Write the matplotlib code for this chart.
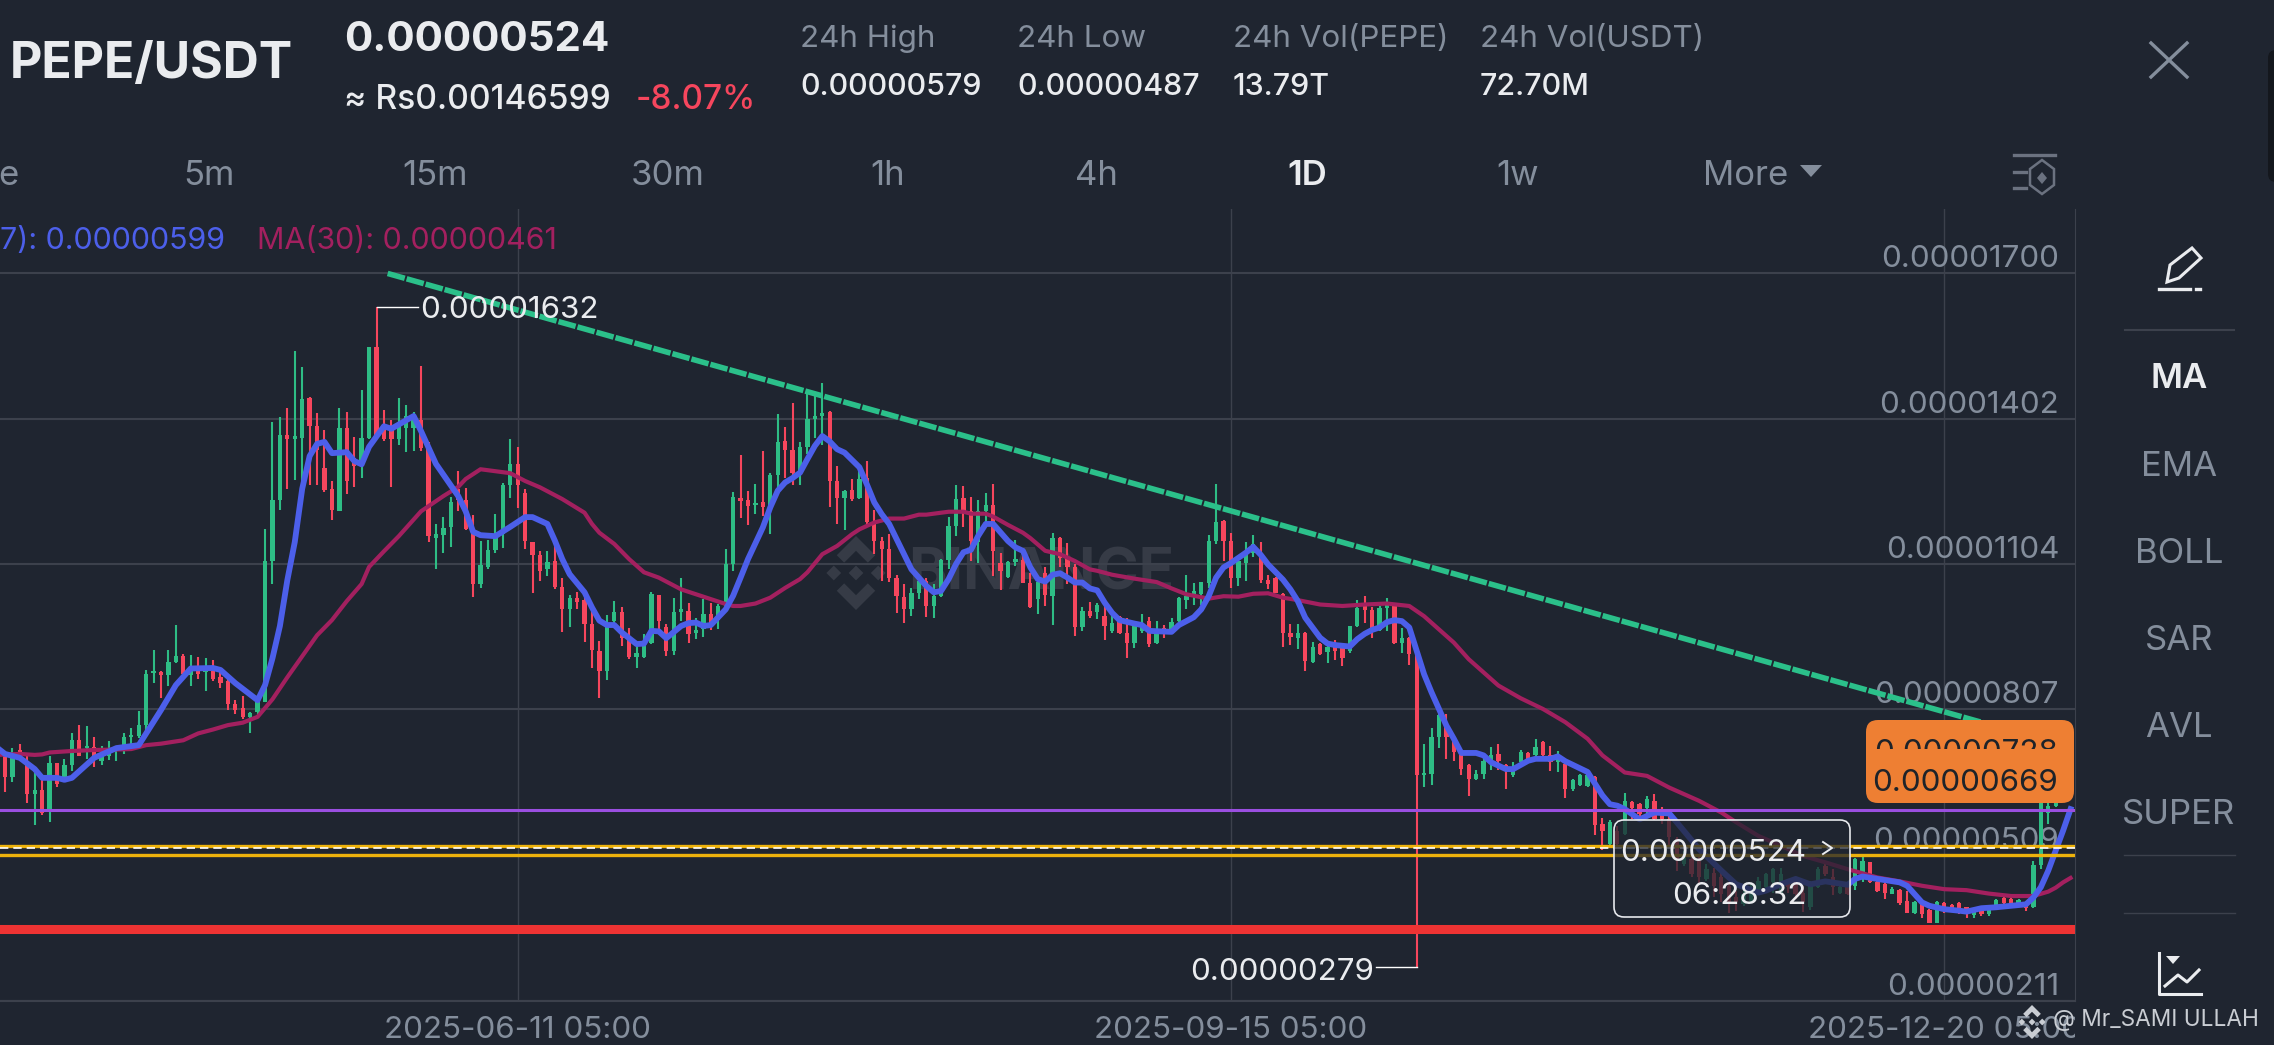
import numpy as np
import matplotlib
matplotlib.use("Agg")
from matplotlib import pyplot as plt
from matplotlib.patches import FancyBboxPatch, Polygon, Rectangle
from matplotlib.transforms import Bbox, IdentityTransform, TransformedBbox

plt.rcParams['font.family'] = ['Inter', 'DejaVu Sans']

# prices are in units of 0.00000001 USDT, one candle per day
opens = [712,669,724,701,634,642,599,697,669,693,
         744,728,730,701,712,728,732,750,753,775,
         881,883,877,904,917,877,892,884,886,873,
         865,818,810,791,802,823,1111,1236,1369,1361,
         1363,1445,1388,1301,1259,1214,1384,1322,1306,1363,
         1549,1388,1383,1361,1384,1384,1400,1345,1159,1164,
         1181,1259,1236,1173,1064,1099,1134,1166,1266,1310,
         1250,1149,1123,1095,1111,1058,1012,1035,1031,983,
         927,886,989,1006,954,915,915,944,1041,975,
         927,1006,1009,963,972,1002,990,1019,1105,1240,
         1236,1225,1231,1221,1288,1356,1338,1289,1344,1402,
         1408,1417,1274,1241,1256,1240,1282,1187,1152,1135,
         1077,1038,1012,1045,1071,1019,1040,1113,1183,1241,
         1214,1149,1214,1225,1108,1079,1110,1113,1067,1033,
         1086,1040,1158,1118,1098,975,1008,1006,998,968,
         996,964,944,968,988,944,973,971,988,1032,
         1039,1043,1066,1152,1194,1153,1077,1107,1128,1121,
         1073,1077,1044,964,954,964,904,941,924,937,
         936,927,977,1019,1010,969,1015,1021,944,954,
         920,672,675,750,774,747,713,694,664,675,
         702,716,694,672,699,718,713,740,713,699,
         696,645,653,651,668,572,532,559,552,617,
         613,606,620,603,582,541,490,500,497,460,
         473,463,446,422,408,415,436,443,453,432,
         449,456,432,402,443,487,463,432,446,446,
         466,494,453,449,430,437,415,391,412,397,
         370,410,407,410,402,387,396,388,402,420,
         419,407,408,402,489,596,610]
highs = [720,728,736,712,677,666,712,698,705,758,
         775,773,751,732,742,732,758,769,804,888,
         928,886,928,980,920,919,914,912,908,886,
         869,826,834,802,837,1177,1396,1405,1424,1541,
         1508,1447,1414,1379,1275,1424,1417,1365,1461,1550,
         1632,1421,1399,1445,1431,1417,1511,1355,1186,1202,
         1242,1295,1261,1206,1152,1154,1207,1271,1361,1344,
         1259,1150,1131,1132,1146,1077,1041,1047,1036,1009,
         948,1000,1030,1017,973,941,961,1048,1042,982,
         1036,1077,1026,995,1033,1026,1023,1135,1253,1328,
         1255,1268,1337,1291,1412,1386,1434,1354,1456,1456,
         1475,1419,1306,1256,1279,1296,1316,1215,1161,1166,
         1083,1064,1056,1077,1077,1064,1115,1202,1266,1265,
         1243,1236,1250,1268,1127,1111,1154,1125,1086,1071,
         1098,1169,1161,1148,1105,1017,1028,1026,1022,1002,
         998,994,981,1002,996,988,980,994,1037,1083,
         1066,1069,1165,1269,1196,1169,1114,1149,1165,1149,
         1083,1078,1046,983,983,966,946,943,937,949,
         937,978,1032,1039,1017,1019,1036,1022,973,955,
         920,736,770,798,798,750,719,696,683,709,
         730,736,696,699,724,719,746,742,732,723,
         706,665,674,679,670,585,581,569,635,619,
         615,630,634,608,596,545,518,507,507,490,
         483,480,453,436,443,449,463,473,483,483,
         456,463,446,456,485,490,480,446,453,503,
         505,495,463,453,443,439,436,414,414,398,
         415,412,408,412,403,395,402,407,419,422,
         430,419,412,496,680,660,670]
lows = [638,659,708,615,570,591,577,648,666,681,
        711,705,689,693,703,701,715,728,748,763,
        862,831,855,902,877,855,870,845,865,851,
        806,798,787,758,794,822,1064,1216,1258,1277,
        1275,1267,1267,1252,1195,1213,1248,1262,1281,1361,
        1367,1356,1262,1349,1335,1336,1336,1149,1095,1128,
        1140,1214,1175,1037,1055,1095,1128,1138,1241,1220,
        1136,1045,1070,1081,1053,965,975,1012,946,892,
        830,867,985,937,910,892,913,942,972,916,
        919,989,943,951,956,969,972,1017,1090,1200,
        1185,1208,1204,1166,1258,1282,1267,1266,1330,1364,
        1348,1221,1187,1174,1234,1238,1187,1125,1070,1069,
        1004,985,999,1033,997,995,1038,1094,1163,1180,
        1111,1108,1180,1081,1051,1077,1101,1066,1015,1002,
        1019,980,1098,1064,957,967,995,992,949,964,
        961,913,932,964,936,941,954,968,986,1012,
        1021,1022,1056,1146,1111,1055,1060,1071,1119,1066,
        1053,1045,934,939,930,885,902,919,903,908,
        896,922,975,984,954,968,968,942,922,898,
        279,649,653,728,706,702,673,629,663,665,
        683,683,645,668,696,704,711,711,682,679,
        626,641,651,648,549,520,529,528,550,582,
        586,589,580,572,524,477,487,464,449,455,
        422,412,391,395,405,412,429,432,432,429,
        432,419,393,396,441,466,427,429,427,438,
        453,451,434,419,429,407,390,389,381,369,
        369,391,393,389,381,381,384,384,400,407,
        405,405,395,400,480,572,608]
closes = [669,712,712,634,642,595,697,654,693,744,
          712,732,712,716,724,730,750,755,775,880,
          886,877,904,916,880,892,880,888,870,861,
          818,806,791,800,822,1111,1236,1369,1361,1367,
          1443,1388,1338,1256,1216,1384,1275,1306,1363,1549,
          1369,1361,1361,1388,1408,1408,1342,1162,1166,1179,
          1232,1236,1177,1064,1103,1134,1166,1266,1310,1266,
          1152,1123,1091,1109,1057,1012,1036,1028,983,928,
          886,982,1006,954,915,922,941,1043,989,927,
          1006,1012,961,969,1002,985,1019,1105,1243,1234,
          1224,1230,1222,1288,1354,1338,1292,1344,1402,1408,
          1415,1275,1240,1255,1238,1279,1190,1152,1135,1077,
          1040,1012,1045,1071,1019,1040,1113,1183,1239,1214,
          1152,1214,1225,1132,1091,1110,1115,1067,1016,1069,
          1042,1159,1118,1098,976,1009,999,1021,977,985,
          964,944,977,985,942,969,968,987,1036,1039,
          1049,1068,1153,1191,1152,1077,1111,1128,1145,1073,
          1063,1046,964,956,964,907,936,920,936,926,
          913,977,1015,1010,968,1015,1024,944,954,920,
          672,675,750,796,751,719,685,665,675,702,
          713,702,682,682,719,706,730,713,699,713,
          645,663,672,672,570,558,577,531,620,606,
          593,623,582,582,545,500,511,470,463,480,
          446,429,408,412,429,436,456,470,480,470,
          443,429,412,446,480,470,443,443,429,500,
          497,453,436,432,439,410,391,412,388,370,
          412,402,400,391,391,393,389,405,417,410,
          410,417,400,489,640,610,617]

ma7_days = [-1,0,2,4,5,7,8,9,12,15,18,21,23,25,28,29,31,34,35,36,37,38,39,40,41,42,43,44,46,47,48,49,
            51,52,55,56,58,61,62,63,64,66,68,70,71,73,74,75,76,78,79,80,81,82,83,85,86,87,88,89,
            91,92,93,94,95,97,98,99,100,102,103,104,105,106,107,108,109,110,111,112,113,115,116,
            117,118,119,121,122,124,125,126,127,128,129,130,131,132,133,135,136,137,138,139,140,
            141,142,143,144,145,146,147,148,149,150,152,153,154,157,158,160,161,162,163,164,165,
            167,168,169,170,172,173,174,175,177,178,179,181,182,183,184,185,186,187,188,189,190,
            191,192,193,194,195,196,198,199,200,202,203,205,206,208,209,210,213,214,215,216,217,
            218,220,222,224,225,228,231,233,236,237,239,241,243,245,248,249,250,252,255,256,258,
            259,261,263,264,266,268,270,272,273,274,275,276,277,278]
ma7_values = [728,716,708,685,667,667,663,667,708,728,734,806,857,891,892,888,861,826,857,912,978,1072,1150,1259,1326,1351,1355,1332,1334,1316,1309,1345,
              1387,1382,1408,1377,1310,1244,1213,1171,1164,1162,1181,1201,1201,1187,1153,1115,1084,1047,1016,989,980,980,965,941,942,968,967,953,
              978,984,985,978,980,1012,1040,1077,1115,1180,1221,1255,1272,1281,1292,1320,1347,1367,1356,1340,1333,1303,1268,
              1231,1207,1187,1125,1094,1060,1047,1050,1074,1105,1129,1134,1163,1187,1187,1152,1139,1132,1098,1074,1069,
              1083,1086,1077,1067,1067,1055,1051,1026,1005,990,983,980,968,966,980,996,1012,1039,1077,1098,1107,
              1128,1140,1124,1104,1073,1053,1029,995,954,942,939,936,951,962,970,975,986,990,988,975,927,
              879,842,808,774,747,718,718,713,699,685,685,702,706,706,711,701,679,655,631,613,610,
              603,582,596,594,576,521,477,449,432,436,449,460,449,455,448,460,465,460,453,446,412,
              405,398,395,393,400,402,405,408,422,443,477,518,559,603]
ma30_days = [-1,2,4,5,6,9,12,15,17,19,21,24,26,28,30,32,34,36,38,40,42,44,46,48,49,51,53,56,59,61,62,64,66,68,70,72,
             75,78,79,80,82,84,86,88,91,93,95,97,98,99,101,103,105,107,108,110,112,114,115,117,119,121,123,124,127,129,130,132,133,135,137,138,140,142,144,146,147,
             149,152,155,157,159,162,164,166,168,170,172,174,177,180,183,186,189,191,193,195,197,199,201,204,207,210,213,215,
             218,221,224,228,231,233,236,239,242,245,248,252,255,258,261,264,267,270,273,275,276,277,278]
ma30_values = [714,716,714,715,719,722,724,725,726,734,737,744,758,766,775,780,792,828,873,916,959,990,1029,1064,1099,1131,1162,1213,1244,1263,1279,1299,1295,1291,1275,1262,
               1238,1210,1187,1169,1146,1115,1088,1077,1053,1043,1033,1023,1019,1019,1024,1036,1056,1074,1088,1125,1142,1166,1176,1190,1198,1198,1206,1206,1212,1212,1208,1208,1202,1185,1169,1158,1132,1125,1111,1094,1091,
               1083,1075,1068,1055,1043,1034,1039,1038,1044,1045,1036,1031,1022,1019,1022,1024,1019,998,971,944,910,883,856,830,808,781,747,713,
               678,671,647,620,596,576,548,528,507,494,480,463,455,446,439,437,430,425,425,434,442,453,462]

trend_days = [51.5, 266.2]
trend_values = [1700, 780]
purple_level = 602
yellow_levels = [527, 508]
last_price = 524
red_level = 358

grid_values = [1700, 1402, 1104, 807, 509, 211]
grid_labels = ['0.00001700', '0.00001402', '0.00001104', '0.00000807', '0.00000509', '0.00000211']
date_days = [69, 165, 261]
date_labels = ['2025-06-11 05:00', '2025-09-15 05:00', '2025-12-20 05:00']

stats_names = ['24h High', '24h Low', '24h Vol(PEPE)', '24h Vol(USDT)']
stats_values = ['0.00000579', '0.00000487', '13.79T', '72.70M']
stats_x = [800, 1017, 1233, 1480]
periods = ['e', '5m', '15m', '30m', '1h', '4h', '1D', '1w', 'More']
periods_x = [8, 209, 435, 668, 888, 1096, 1307, 1518, 1746]
tools = ['MA', 'EMA', 'BOLL', 'SAR', 'AVL', 'SUPER']
tools_y = [379, 467, 554, 641, 728, 815]

BG = '#1F2530'
GRAY = '#848E9C'
WHITE = '#EAECEF'
GREEN = '#2EBD85'
RED = '#F6465D'
BLUE = '#4C5FEA'
PURPLE = '#A3205F'
GRID = '#3C414C'
MARK = '#363B46'

W, H = 2274, 1045


def draw_logo(a, cx, cy, r, color, zorder=1):
    shapes = [
        [(0, 1), (.52, .48), (.32, .28), (0, .6), (-.32, .28), (-.52, .48)],
        [(0, -1), (.52, -.48), (.32, -.28), (0, -.6), (-.32, -.28), (-.52, -.48)],
        [(0, .2), (.2, 0), (0, -.2), (-.2, 0)],
        [(.6, .2), (.8, 0), (.6, -.2), (.4, 0)],
        [(-.6, .2), (-.4, 0), (-.6, -.2), (-.8, 0)],
    ]
    for s in shapes:
        pts = [(cx + x * r, cy - y * r) for x, y in s]
        a.add_patch(Polygon(pts, closed=True, fc=color, ec='none', zorder=zorder))


def px_axes(z):
    a = fig.add_axes([0, 0, 1, 1], zorder=z)
    a.set_xlim(0, W)
    a.set_ylim(H, 0)
    a.axis('off')
    a.patch.set_alpha(0)
    return a


fig = plt.figure(figsize=(W / 100, H / 100), dpi=100, facecolor=BG)

# watermark goes under the candles
under = px_axes(0)
draw_logo(under, 856, 573, 37, MARK)
under.text(908, 575, 'BINANCE', color=MARK, fontsize=42, fontweight='bold', va='center')

ax = fig.add_axes([0, (H - 1001) / H, 2075 / W, 792 / H], zorder=1)
ax.patch.set_alpha(0)
ax.set_xlim(-0.673, 278.6)
ax.set_ylim(210, 1832)

days = np.arange(len(opens))
o = np.array(opens)
c = np.array(closes)
colors = [GREEN if c[i] >= o[i] else RED for i in days]

ax.vlines(days, lows, highs, colors=colors, linewidth=1.5, zorder=2)
ax.bar(days, np.maximum(np.abs(c - o), 5), bottom=np.minimum(o, c), width=0.58, color=colors, zorder=2.1)

ax.plot(ma30_days, ma30_values, color=PURPLE, lw=3.0, zorder=3, solid_joinstyle='round')
ax.plot(ma7_days, ma7_values, color=BLUE, lw=4.2, zorder=3.2, solid_joinstyle='round')

ax.plot(trend_days, trend_values, color='#2BC08A', lw=4, dashes=(3.2, 0.35), zorder=4)
ax.axhline(purple_level, color='#9A4FE0', lw=2.2, zorder=4)
for lvl in yellow_levels:
    ax.axhline(lvl, color='#EDB20C', lw=2.4, zorder=4)
ax.axhline(last_price, color='white', lw=1.2, dashes=(5, 3), zorder=4.1)
ax.axhline(red_level, color='#EE3333', lw=6.5, zorder=4)

# highest and lowest price marks
ax.plot([50, 55.6], [1632, 1632], color='white', lw=1, zorder=4.2)
ax.plot([190, 184.5], [279, 279], color='white', lw=1, zorder=4.2)
ax.annotate('0.00001632', (55.8, 1632), xytext=(1, -3), textcoords='offset pixels', color=WHITE,
            fontsize=22.6, va='center', ha='left', zorder=5)
ax.annotate('0.00000279', (184.2, 279), xytext=(0, -5), textcoords='offset pixels', color=WHITE,
            fontsize=22.6, va='center', ha='right', zorder=5)

ax.set_axisbelow(True)
ax.grid(True, axis='y', color=GRID, lw=1.5)
ax.grid(True, axis='x', color=GRID, lw=1.0)
ax.yaxis.tick_right()
ax.set_yticks(grid_values)
ax.set_yticklabels(grid_labels)
ax.set_xticks(date_days)
ax.set_xticklabels(date_labels)
ax.tick_params(axis='y', length=0, pad=-11.5, labelcolor=GRAY, labelsize=22.6)
ax.tick_params(axis='x', length=0, pad=11, labelcolor=GRAY, labelsize=22.6)
for t in ax.get_yticklabels():
    t.set_ha('right')
    t.set_va('bottom')
clip = TransformedBbox(Bbox([[0, 0], [2075, H]]), IdentityTransform())
for t in ax.get_xticklabels():
    t.set_clip_on(True)
    t.set_clip_box(clip)
for side in ['top', 'left']:
    ax.spines[side].set_visible(False)
ax.spines['right'].set_color(GRID)
ax.spines['bottom'].set_color(GRID)
ax.spines['bottom'].set_linewidth(1.5)

# everything else is app chrome, placed in pixels
ui = px_axes(2)

ui.text(10, 64, 'PEPE/USDT', color=WHITE, fontsize=36, fontweight='bold', va='center')
ui.text(344, 40, '0.00000524', color=WHITE, fontsize=30.3, fontweight='bold', va='center')
ui.text(344, 100, '≈ Rs0.00146599', color=WHITE, fontsize=24.2, fontweight='medium', va='center')
ui.text(636, 100, '-8.07%', color=RED, fontsize=24, fontweight='medium', va='center')
for name, val, x in zip(stats_names, stats_values, stats_x):
    ui.text(x, 39, name, color=GRAY, fontsize=22.6, va='center')
    ui.text(x, 87, val, color=WHITE, fontsize=21.9, fontweight='medium', va='center')

ui.plot([2151, 2187], [43, 77], color=GRAY, lw=2.4)
ui.plot([2187, 2151], [43, 77], color=GRAY, lw=2.4)
ui.add_patch(FancyBboxPatch((2268, 50), 20, 132, boxstyle='round,pad=0,rounding_size=8', fc='#14171D', ec='none'))

for name, x in zip(periods, periods_x):
    on = name == '1D'
    ui.text(x, 176, name, color=WHITE if on else GRAY, fontsize=25, ha='center', va='center',
            fontweight='semibold' if on else 'normal')
ui.add_patch(Polygon([(1800, 165), (1822, 165), (1811, 177)], fc=GRAY, ec='none'))

# layout settings icon
ui.plot([2014, 2055], [155, 155], color='#6B7280', lw=2.4)
ui.plot([2014, 2026], [172, 172], color='#6B7280', lw=2.4)
ui.plot([2014, 2026], [188, 188], color='#6B7280', lw=2.4)
ui.add_patch(Polygon([(2042, 160), (2054, 169), (2054, 185), (2042, 194), (2030, 185), (2030, 169)],
                     fc='none', ec='#6B7280', lw=1.8))
ui.add_patch(Polygon([(2042, 172), (2047, 178), (2042, 184), (2037, 178)], fc='#6B7280', ec='none'))

ui.text(0, 241, '7): 0.00000599', color=BLUE, fontsize=21.9, va='center')
ui.text(257, 241, 'MA(30): 0.00000461', color=PURPLE, fontsize=21.9, va='center')

# right tool column
ui.add_patch(Polygon([(2167, 282), (2170, 265), (2192, 248), (2201, 258), (2179, 278)], fc='none', ec=WHITE, lw=2.2))
ui.plot([2159, 2190], [289, 289], color=WHITE, lw=2.4)
ui.plot([2196, 2200], [289, 289], color=WHITE, lw=2.4)
ui.plot([2125, 2234], [330, 330], color=GRID, lw=1.5)
for name, y in zip(tools, tools_y):
    ui.text(2179, y, name, color=WHITE if name == 'MA' else GRAY, fontsize=25, ha='center', va='center',
            fontweight='semibold' if name == 'MA' else 'normal')
ui.plot([2124, 2235], [855, 855], color=GRID, lw=1)
ui.plot([2124, 2235], [913, 913], color=GRID, lw=1)
ui.plot([2159, 2159, 2201], [953, 994, 994], color=WHITE, lw=2.2)
ui.plot([2165, 2178, 2187, 2199], [986, 975, 982, 970], color=WHITE, lw=2.2)
ui.add_patch(Polygon([(2166, 956), (2180, 956), (2173, 964)], fc=WHITE, ec='none'))

# orange stacked price label
ui.add_patch(FancyBboxPatch((1866, 720), 208, 83, boxstyle='round,pad=0,rounding_size=12', fc='#EE7F33', ec='none'))
hidden = ui.text(2058, 753, '0.00000728', color='#1E2329', fontsize=22.6, ha='right', va='center')
hidden.set_clip_on(True)
hidden.set_clip_path(Rectangle((1866, 720), 208, 29, transform=ui.transData))
ui.text(2058, 783, '0.00000669', color='#1E2329', fontsize=22.6, ha='right', va='center')

# current price box
ui.add_patch(FancyBboxPatch((1614, 820), 236, 97, boxstyle='round,pad=0,rounding_size=10',
                            fc=(0.122, 0.145, 0.188, 0.75), ec='#E6E8EC', lw=1.2))
ui.text(1806, 853, '0.00000524', color=WHITE, fontsize=22.6, ha='right', va='center')
ui.text(1806, 896, '06:28:32', color=WHITE, fontsize=22.6, ha='right', va='center')
ui.plot([1823, 1832, 1823], [842, 848, 854], color=WHITE, lw=1.4)

# author watermark
draw_logo(ui, 2032, 1022, 17, '#C9CDD3')
ui.text(2053, 1020, '@ Mr_SAMI ULLAH', color='#C9CDD3', fontsize=16.3, va='center')

fig.savefig('out.png', dpi=100, facecolor=BG)
